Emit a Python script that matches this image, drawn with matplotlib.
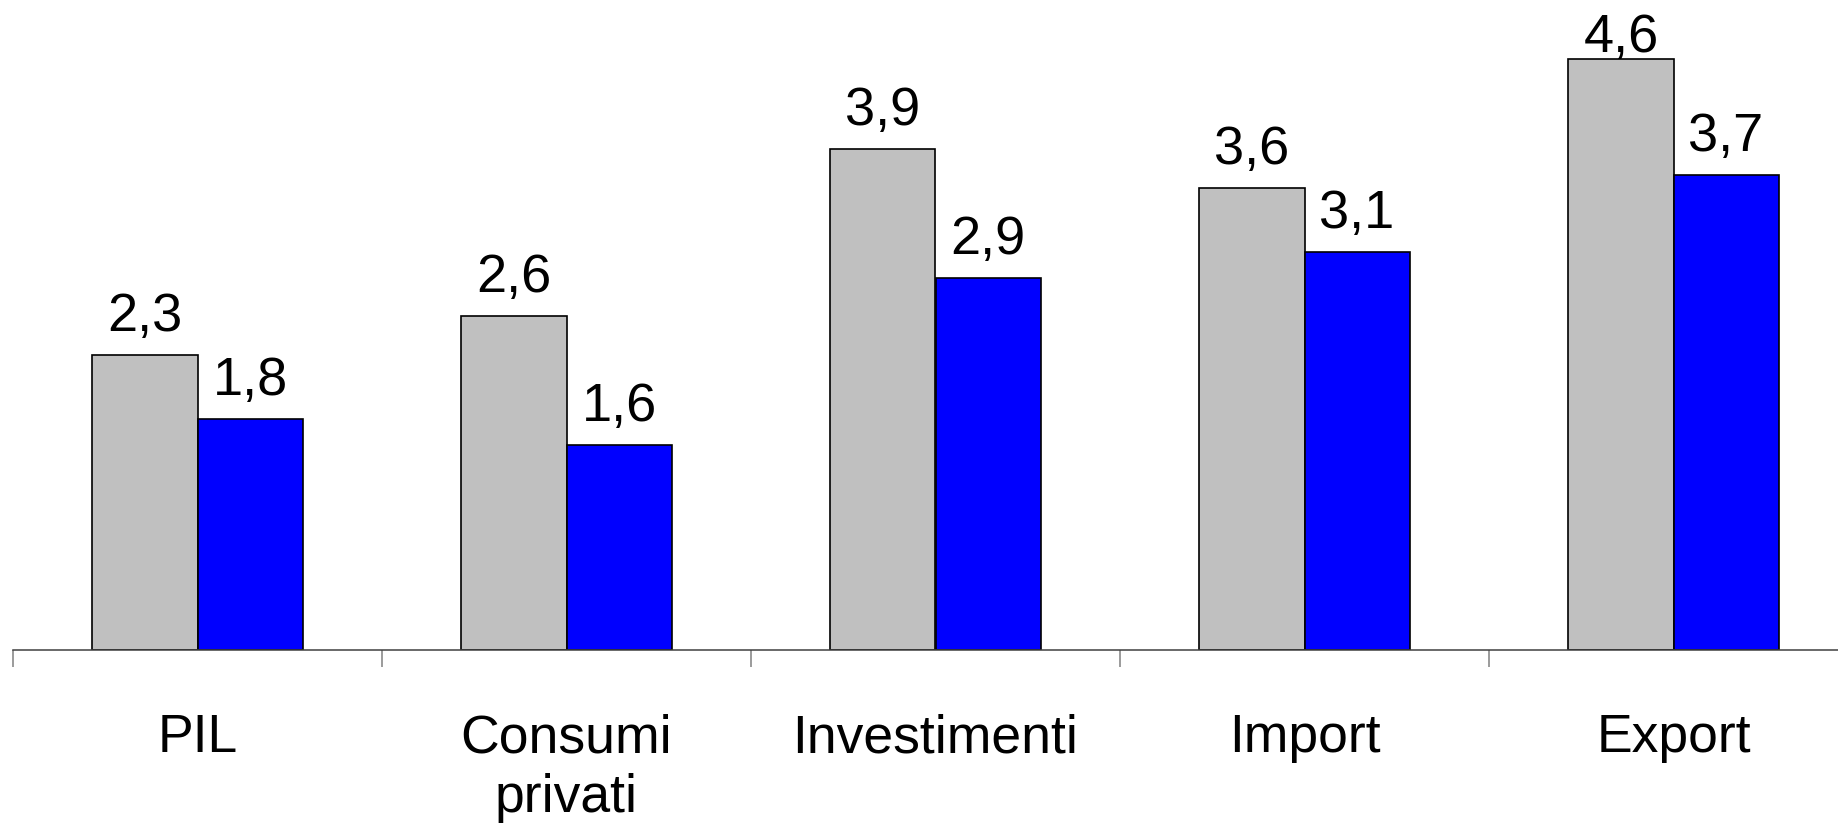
import matplotlib.pyplot as plt
import numpy as np

categories = ["PIL", "Consumi\nprivati", "Investimenti", "Import", "Export"]
series_grey = [2.3, 2.6, 3.9, 3.6, 4.6]
series_blue = [1.8, 1.6, 2.9, 3.1, 3.7]

GREY = "#C0C0C0"
BLUE = "#0000FF"
BAR_WIDTH = 0.285
FONT = "Liberation Sans"

W, H, DPI = 1838, 828, 100
fig = plt.figure(figsize=(W / DPI, H / DPI), dpi=DPI)

# axis baseline at y=651 px, categories 369 px wide starting at x=13 px
ax = fig.add_axes([13 / W, (H - 651) / H, 5 * 369 / W, 651 / H])
ax.set_xlim(-0.5, 4.5)
ax.set_ylim(0, 651 / 128.4)

x = np.arange(len(categories))
ax.bar(x - BAR_WIDTH / 2, series_grey, BAR_WIDTH, color=GREY,
       edgecolor="black", linewidth=1.2)
ax.bar(x + BAR_WIDTH / 2, series_blue, BAR_WIDTH, color=BLUE,
       edgecolor="black", linewidth=1.2)

# value labels; keep them inside the figure for the tallest bar
for xs, vals in ((x - BAR_WIDTH / 2, series_grey), (x + BAR_WIDTH / 2, series_blue)):
    for xi, v in zip(xs, vals):
        top_px = 651 - v * 128.4
        offset_px = min(25, top_px - 52)
        ax.annotate(f"{v:.1f}".replace(".", ","), (xi, v),
                    xytext=(0, offset_px * 72 / DPI), textcoords="offset points",
                    ha="center", va="baseline", fontsize=39, family=FONT,
                    annotation_clip=False)

for side in ("left", "right", "top"):
    ax.spines[side].set_visible(False)
ax.spines["bottom"].set_color("#404040")
ax.spines["bottom"].set_linewidth(1.1)

ax.set_yticks([])
ax.set_xticks(x)
ax.set_xticklabels(categories, fontsize=38.5, family=FONT, linespacing=1.25)
ax.tick_params(axis="x", which="major", length=0, pad=45)
ax.set_xticks(np.arange(-0.5, 5.0, 1.0), minor=True)
ax.tick_params(axis="x", which="minor", length=12, width=1.1, color="#808080")

fig.savefig("out.png", dpi=DPI)
